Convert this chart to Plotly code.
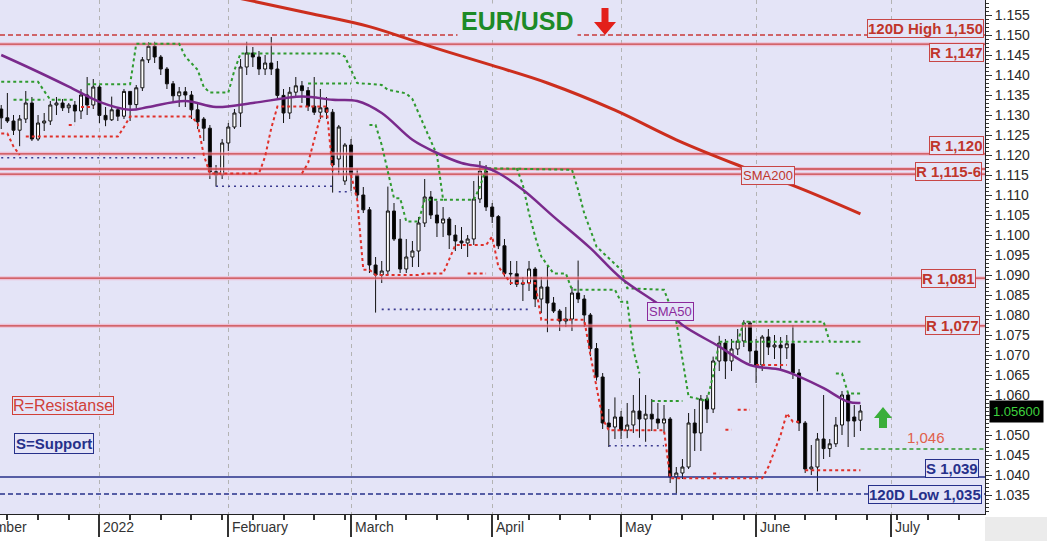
import numpy as np
import pandas as pd
import plotly.graph_objects as go

START = "2021-12-10"
dates = pd.bdate_range(START, "2022-06-24").strftime("%Y-%m-%d").tolist()


def pos(d):
    return None if d is None else int(np.busday_count(START, d))


open_ = [1.1315, 1.1293, 1.1285, 1.1262, 1.1290, 1.1330, 1.1240, 1.1280, 1.1285, 1.1325, 1.1330, 1.1318, 1.1325, 1.1310, 1.1350, 1.1325,
         1.1370, 1.1299, 1.1288, 1.1313, 1.1297, 1.1359, 1.1326, 1.1368, 1.1438, 1.1472, 1.1445, 1.1415, 1.1378, 1.1348, 1.1358, 1.1350, 1.1313, 1.1290, 1.1267, 1.1158, 1.1150,
         1.1230, 1.1270, 1.1305, 1.1420, 1.1455, 1.1445, 1.1415, 1.1430, 1.1415, 1.1349, 1.1305, 1.1357, 1.1373, 1.1361, 1.1322, 1.1307, 1.1318, 1.1307, 1.1190, 1.1135,
         1.1225, 1.1150, 1.1100, 1.1063, 1.0925, 1.0900, 1.0910, 1.1060, 1.0990, 1.0915, 1.0945, 1.0960, 1.1030, 1.1095, 1.1050, 1.1030, 1.1040, 1.1000, 1.0985, 1.0980, 1.0990, 1.1090, 1.1160,
         1.1070, 1.1046, 1.0973, 1.0904, 1.0903, 1.0877, 1.0880, 1.0915, 1.0840, 1.0870, 1.0830, 1.0810, 1.0785, 1.0790, 1.0855, 1.0840, 1.0800, 1.0716, 1.0645, 1.0530, 1.0520,
         1.0545, 1.0512, 1.0525, 1.0560, 1.0540, 1.0552, 1.0540, 1.0530, 1.0540, 1.0395, 1.0405, 1.0420, 1.0530, 1.0505, 1.0590, 1.0565, 1.0685, 1.0730, 1.0685, 1.0715, 1.0735, 1.0780,
         1.0710, 1.0675, 1.0745, 1.0720, 1.0725, 1.0718, 1.0728, 1.0655, 1.0530, 1.0415, 1.0420, 1.0490, 1.0466, 1.0478, 1.0525, 1.0600, 1.0545, 1.0537]
high = [1.1325, 1.1355, 1.1300, 1.1300, 1.1360, 1.1345, 1.1300, 1.1305, 1.1335, 1.1345, 1.1340, 1.1330, 1.1335, 1.1365, 1.1395, 1.1390,
        1.1375, 1.1320, 1.1346, 1.1320, 1.1365, 1.1360, 1.1375, 1.1445, 1.1482, 1.1483, 1.1450, 1.1420, 1.1385, 1.1370, 1.1370, 1.1360, 1.1330, 1.1295, 1.1275, 1.1175, 1.1240,
        1.1280, 1.1315, 1.1440, 1.1483, 1.1470, 1.1460, 1.1450, 1.1495, 1.1435, 1.1365, 1.1370, 1.1395, 1.1385, 1.1370, 1.1395, 1.1365, 1.1345, 1.1315, 1.1275, 1.1230,
        1.1240, 1.1165, 1.1120, 1.1070, 1.0945, 1.0935, 1.1121, 1.1080, 1.1040, 1.0990, 1.0985, 1.1045, 1.1140, 1.1110, 1.1085, 1.1070, 1.1045, 1.1025, 1.1020, 1.1000, 1.1135, 1.1185, 1.1175,
        1.1080, 1.1050, 1.0990, 1.0935, 1.0935, 1.0895, 1.0935, 1.0920, 1.0895, 1.0925, 1.0845, 1.0815, 1.0820, 1.0870, 1.0936, 1.0850, 1.0805, 1.0730, 1.0655, 1.0565, 1.0594,
        1.0560, 1.0580, 1.0600, 1.0642, 1.0600, 1.0590, 1.0580, 1.0575, 1.0545, 1.0420, 1.0440, 1.0555, 1.0565, 1.0600, 1.0600, 1.0696, 1.0748, 1.0740, 1.0740, 1.0765, 1.0787, 1.0785,
        1.0740, 1.0750, 1.0765, 1.0750, 1.0745, 1.0750, 1.0775, 1.0665, 1.0535, 1.0475, 1.0505, 1.0600, 1.0490, 1.0545, 1.0610, 1.0606, 1.0575, 1.0575]
low = [1.1265, 1.1280, 1.1250, 1.1222, 1.1280, 1.1235, 1.1235, 1.1260, 1.1275, 1.1300, 1.1310, 1.1305, 1.1282, 1.1290, 1.1300, 1.1315,
       1.1280, 1.1272, 1.1285, 1.1285, 1.1290, 1.1285, 1.1316, 1.1360, 1.1430, 1.1430, 1.1400, 1.1365, 1.1330, 1.1320, 1.1320, 1.1290, 1.1265, 1.1235, 1.1140, 1.1121, 1.1140,
       1.1210, 1.1265, 1.1270, 1.1400, 1.1420, 1.1400, 1.1400, 1.1400, 1.1340, 1.1280, 1.1290, 1.1345, 1.1330, 1.1310, 1.1300, 1.1290, 1.1290, 1.1106, 1.1150, 1.1125,
       1.1110, 1.1090, 1.1055, 1.0905, 1.0806, 1.0880, 1.0900, 1.0985, 1.0905, 1.0905, 1.0920, 1.0920, 1.1020, 1.1040, 1.0995, 1.0995, 1.0965, 1.0960, 1.0965, 1.0945, 1.0975, 1.1080, 1.1060,
       1.1030, 1.0965, 1.0895, 1.0875, 1.0870, 1.0835, 1.0860, 1.0820, 1.0805, 1.0757, 1.0805, 1.0760, 1.0770, 1.0760, 1.0830, 1.0770, 1.0697, 1.0636, 1.0515, 1.0470, 1.0490,
       1.0490, 1.0492, 1.0505, 1.0493, 1.0483, 1.0510, 1.0515, 1.0505, 1.0380, 1.0354, 1.0390, 1.0415, 1.0460, 1.0460, 1.0530, 1.0555, 1.0660, 1.0640, 1.0660, 1.0700, 1.0720, 1.0680,
       1.0630, 1.0660, 1.0700, 1.0690, 1.0665, 1.0690, 1.0640, 1.0510, 1.0405, 1.0400, 1.0359, 1.0440, 1.0445, 1.0470, 1.0500, 1.0470, 1.0495, 1.0510]
close = [1.1293, 1.1285, 1.1262, 1.1290, 1.1330, 1.1240, 1.1280, 1.1285, 1.1325, 1.1330, 1.1318, 1.1325, 1.1310, 1.1350, 1.1325, 1.1370,
         1.1299, 1.1288, 1.1313, 1.1297, 1.1359, 1.1326, 1.1368, 1.1438, 1.1472, 1.1445, 1.1415, 1.1378, 1.1348, 1.1358, 1.1350, 1.1313, 1.1283, 1.1267, 1.1158, 1.1150, 1.1230,
         1.1270, 1.1305, 1.1420, 1.1455, 1.1445, 1.1415, 1.1430, 1.1415, 1.1349, 1.1305, 1.1357, 1.1373, 1.1361, 1.1322, 1.1307, 1.1318, 1.1307, 1.1175, 1.1270, 1.1225,
         1.1150, 1.1100, 1.1063, 1.0925, 1.0900, 1.0910, 1.1060, 1.0990, 1.0915, 1.0945, 1.0960, 1.1030, 1.1095, 1.1050, 1.1030, 1.1040, 1.1000, 1.0985, 1.0980, 1.0990, 1.1090, 1.1160, 1.1070,
         1.1046, 1.0973, 1.0904, 1.0903, 1.0877, 1.0880, 1.0915, 1.0840, 1.0870, 1.0830, 1.0810, 1.0785, 1.0790, 1.0855, 1.0840, 1.0800, 1.0716, 1.0645, 1.0530, 1.0520, 1.0545,
         1.0512, 1.0525, 1.0560, 1.0540, 1.0552, 1.0540, 1.0530, 1.0540, 1.0395, 1.0405, 1.0420, 1.0530, 1.0505, 1.0590, 1.0565, 1.0685, 1.0730, 1.0685, 1.0715, 1.0735, 1.0780, 1.0710,
         1.0675, 1.0745, 1.0720, 1.0725, 1.0718, 1.0728, 1.0655, 1.0530, 1.0415, 1.0420, 1.0490, 1.0466, 1.0478, 1.0525, 1.0600, 1.0535, 1.0535, 1.0560]

sma50_dates = ["2021-12-10", "2021-12-17", "2021-12-27", "2022-01-03", "2022-01-10", "2022-01-13", "2022-01-21", "2022-01-28",
               "2022-02-07", "2022-02-17", "2022-02-24", "2022-03-02", "2022-03-08", "2022-03-15", "2022-03-21", "2022-03-25",
               "2022-03-31", "2022-04-04", "2022-04-08", "2022-04-15", "2022-04-25", "2022-05-02", "2022-05-11", "2022-05-16",
               "2022-05-24", "2022-05-31", "2022-06-07", "2022-06-10", "2022-06-16", "2022-06-22", "2022-06-24"]
sma50_vals = [1.1450, 1.1415, 1.1371, 1.1333, 1.1313, 1.1320, 1.1335, 1.1320, 1.1330, 1.1346, 1.1338, 1.1335, 1.1305, 1.1238,
              1.1205, 1.1180, 1.1168, 1.1155, 1.1113, 1.1046, 1.0967, 1.0892, 1.0817, 1.0775, 1.0721, 1.0675, 1.0663, 1.0646,
              1.0617, 1.0583, 1.0580]

sma200_dates = ["2021-12-10", "2021-12-24", "2022-01-07", "2022-01-21", "2022-02-04", "2022-02-18", "2022-03-04", "2022-03-18",
                "2022-04-01", "2022-04-14", "2022-04-29", "2022-05-13", "2022-05-27", "2022-06-10", "2022-06-24"]
sma200_vals = [1.1725, 1.1690, 1.1655, 1.1620, 1.1588, 1.1555, 1.1521, 1.1471, 1.1424, 1.1380, 1.1312, 1.1238, 1.1175, 1.1118, 1.1053]

green_dates = ["2021-12-10", "2021-12-20", "2021-12-21", "2021-12-22", "2021-12-28", None,
               "2021-12-14", "2021-12-21", None,
               "2021-12-30", "2022-01-10", "2022-01-11", "2022-01-20", "2022-01-21", "2022-01-25", "2022-01-26", "2022-01-27",
               "2022-02-01", "2022-02-02", "2022-02-03", "2022-02-25", "2022-02-28", "2022-03-02", "2022-03-08", "2022-03-09",
               "2022-03-14", "2022-03-15", "2022-03-21", "2022-03-22", "2022-03-29", "2022-03-30", "2022-03-31", "2022-04-20",
               "2022-04-21", "2022-04-22", "2022-04-25", "2022-04-26", "2022-05-02", "2022-05-03", "2022-05-11", "2022-05-13",
               "2022-05-17", "2022-05-20", "2022-05-23", "2022-05-24", "2022-05-27", "2022-05-30", "2022-06-16", "2022-06-17",
               "2022-06-24", None,
               "2022-02-18", "2022-03-01", None,
               "2022-03-04", "2022-03-07", "2022-03-08", "2022-03-09", "2022-03-10", "2022-03-11", "2022-03-14", "2022-03-16",
               "2022-03-17", "2022-03-22", None,
               "2022-04-07", "2022-04-08", "2022-04-11", "2022-04-12", "2022-04-13", "2022-04-14", "2022-04-15", "2022-04-19",
               "2022-04-20", "2022-04-29", "2022-05-02", "2022-05-03", "2022-05-04", "2022-05-05", None,
               "2022-05-09", "2022-05-16", None,
               "2022-05-27", "2022-06-16", None,
               "2022-06-20", "2022-06-21", "2022-06-22", "2022-06-24"]
green_vals = [1.1383, 1.1383, 1.1360, 1.1338, 1.1338, None,
              1.1338, 1.1338, None,
              1.1377, 1.1377, 1.1478, 1.1478, 1.1446, 1.1413, 1.1370, 1.1356,
              1.1356, 1.1412, 1.1454, 1.1454, 1.1446, 1.1380, 1.1375, 1.1363,
              1.1354, 1.1340, 1.1200, 1.1088, 1.1088, 1.1120, 1.1167, 1.1163,
              1.1113, 1.1054, 1.1013, 1.0971, 1.0913, 1.0867, 1.0863, 1.0783,
              1.0596, 1.0585, 1.0650, 1.0733, 1.0733, 1.0783, 1.0783, 1.0733,
              1.0733, None,
              1.1379, 1.1379, None,
              1.1275, 1.1275, 1.1225, 1.1158, 1.1092, 1.1092, 1.1034, 1.1034,
              1.1088, 1.1088, None,
              1.1167, 1.1125, 1.1054, 1.0996, 1.0946, 1.0925, 1.0904, 1.0904,
              1.0863, 1.0863, 1.0833, 1.0833, 1.0713, 1.0654, None,
              1.0585, 1.0585, None,
              1.0733, 1.0733, None,
              1.0654, 1.0654, 1.0604, 1.0604]

red_dates = ["2021-12-10", "2021-12-13", "2021-12-14", "2021-12-15", None,
             "2021-12-16", "2022-01-06", "2022-01-07", "2022-01-10", "2022-01-24", "2022-01-25", "2022-01-26", "2022-01-27",
             "2022-02-08", "2022-02-09", "2022-02-10", "2022-02-11", "2022-02-23", "2022-02-24", None,
             "2021-12-27", "2021-12-28", None, "2021-12-29", "2021-12-31", None,
             "2022-02-17", "2022-02-18", "2022-02-22", "2022-02-23", None,
             "2022-03-01", "2022-03-02", "2022-03-03", "2022-03-04", "2022-03-07", "2022-03-16", "2022-03-17", "2022-03-22",
             "2022-03-24", "2022-03-31", "2022-04-01", "2022-04-04", "2022-04-06", "2022-04-12", "2022-04-13", "2022-04-22",
             "2022-04-25", "2022-04-26", "2022-04-27", "2022-04-28", "2022-05-11", "2022-05-12", "2022-06-02", "2022-06-03",
             "2022-06-06", "2022-06-07", "2022-06-08", "2022-06-09", "2022-06-10", None,
             "2022-03-28", "2022-03-31", None,
             "2022-05-23", "2022-05-24", None, "2022-05-25", "2022-05-26", None, "2022-05-27", "2022-05-31", None,
             "2022-06-01", "2022-06-08", None,
             "2022-06-13", "2022-06-24"]
red_vals = [1.1254, 1.1254, 1.1221, 1.1200, None,
            1.1246, 1.1246, 1.1270, 1.1296, 1.1296, 1.1279, 1.1200, 1.1154,
            1.1154, 1.1196, 1.1267, 1.1321, 1.1321, 1.1160, None,
            1.1275, 1.1275, None, 1.1320, 1.1320, None,
            1.1154, 1.1180, 1.1296, 1.1296, None,
            1.1150, 1.1088, 1.0913, 1.0913, 1.0900, 1.0900, 1.0904, 1.0904,
            1.0975, 1.0975, 1.0996, 1.0921, 1.0880, 1.0880, 1.0788, 1.0788,
            1.0700, 1.0620, 1.0540, 1.0512, 1.0512, 1.0392, 1.0392, 1.0420,
            1.0460, 1.0500, 1.0554, 1.0533, 1.0533, None,
            1.0904, 1.0904, None,
            1.0404, 1.0404, None, 1.0513, 1.0513, None, 1.0563, 1.0563, None,
            1.0675, 1.0675, None,
            1.0412, 1.0412]

support_hist_dates = ["2021-12-10", "2022-01-25", None, "2022-01-28", "2022-02-24", None, "2022-02-25", "2022-03-01", None,
                      "2022-03-08", "2022-04-11", None, "2022-04-28", "2022-05-11"]
support_hist_vals = [1.1193, 1.1193, None, 1.1122, 1.1122, None, 1.1108, 1.1108, None,
                     1.0814, 1.0814, None, 1.0473, 1.0473]

resistance_levels = [1.1477, 1.1203, 1.1165, 1.1152, 1.0892, 1.0773]
support_levels = [1.0395]
high_120d = 1.1500
low_120d = 1.03525
target_level = 1.0465

month_starts = ["2021-12-01", "2022-01-03", "2022-02-01", "2022-03-01", "2022-04-01", "2022-05-02", "2022-06-01", "2022-07-01"]
month_labels = ["December", "2022", "February", "March", "April", "May", "June", "July"]
mondays = pd.date_range("2021-12-13", "2022-07-18", freq="W-MON").strftime("%Y-%m-%d").tolist()

y_tick_vals = [round(1.035 + 0.005 * k, 3) for k in range(25)]
y_tick_text = ["" if abs(v - 1.055) < 1e-9 else f"{v:.3f}" for v in y_tick_vals]  # 1.055 sits under the price tag

XMIN, XMAX = -0.2, 160.3
YMIN, YMAX = 1.03025, 1.15875
BG = "#e4e4f7"
FONT = "Arial, Liberation Sans, sans-serif"
RED_TXT = "#c0352b"
RED_LINE = "#c84646"
NAVY = "#26308a"

fig = go.Figure()

# horizontal resistance / support levels
for lv in resistance_levels:
    fig.add_trace(go.Scatter(x=[XMIN, XMAX], y=[lv, lv], mode="lines",
                             line=dict(color="rgba(245,160,185,0.55)", width=4), hoverinfo="skip", showlegend=False))
    fig.add_trace(go.Scatter(x=[XMIN, XMAX], y=[lv, lv], mode="lines",
                             line=dict(color=RED_LINE, width=1.3), hoverinfo="skip", showlegend=False))
for lv in support_levels:
    fig.add_trace(go.Scatter(x=[XMIN, XMAX], y=[lv, lv], mode="lines",
                             line=dict(color=NAVY, width=1.5), hoverinfo="skip", showlegend=False))
fig.add_trace(go.Scatter(x=[XMIN, XMAX], y=[high_120d, high_120d], mode="lines",
                         line=dict(color="#c83a3a", width=1.3, dash="5px,3px"), hoverinfo="skip", showlegend=False))
fig.add_trace(go.Scatter(x=[XMIN, XMAX], y=[low_120d, low_120d], mode="lines",
                         line=dict(color=NAVY, width=1.3, dash="5px,3px"), hoverinfo="skip", showlegend=False))
fig.add_trace(go.Scatter(x=[pos(dates[-1]), XMAX], y=[target_level, target_level], mode="lines",
                         line=dict(color="#2f9a2f", width=1.5, dash="4px,3px"), hoverinfo="skip", showlegend=False))

# support history (navy dotted)
fig.add_trace(go.Scatter(x=[pos(d) for d in support_hist_dates], y=support_hist_vals, mode="lines",
                         line=dict(color="#3a3a90", width=1.6, dash="2px,4px"), hoverinfo="skip", showlegend=False))

# candles
fig.add_trace(go.Candlestick(
    x=[pos(d) for d in dates], open=open_, high=high, low=low, close=close,
    increasing=dict(line=dict(color="#111111", width=1), fillcolor="#ffffff"),
    decreasing=dict(line=dict(color="#111111", width=1), fillcolor="#000000"),
    hoverinfo="skip", showlegend=False))

# trailing dotted lines
fig.add_trace(go.Scatter(x=[pos(d) for d in green_dates], y=green_vals, mode="lines",
                         line=dict(color="#2f9a2f", width=2, dash="3px,3px"), hoverinfo="skip", showlegend=False))
fig.add_trace(go.Scatter(x=[pos(d) for d in red_dates], y=red_vals, mode="lines",
                         line=dict(color="#e0302a", width=2, dash="3px,3px"), hoverinfo="skip", showlegend=False))

# moving averages
fig.add_trace(go.Scatter(x=[pos(d) for d in sma200_dates], y=sma200_vals, mode="lines", line_shape="spline",
                         line=dict(color="#cc2e1e", width=3), hoverinfo="skip", showlegend=False))
fig.add_trace(go.Scatter(x=[pos(d) for d in sma50_dates], y=sma50_vals, mode="lines", line_shape="spline",
                         line=dict(color="#7a2a8c", width=2.5), hoverinfo="skip", showlegend=False))

annotations = []


def level_label(text, y, color, border, yanchor, xshift, yshift=0):
    annotations.append(dict(xref="paper", x=1, xanchor="right", xshift=xshift, yref="y", y=y,
                            yanchor=yanchor, yshift=yshift, text=f"<b>{text}</b>", showarrow=False,
                            font=dict(family=FONT, size=15, color=color), bgcolor=BG, bordercolor=border,
                            borderwidth=1, borderpad=0))


level_label("120D High 1,150", high_120d, RED_TXT, RED_LINE, "bottom", -1, -3)
level_label("R 1,147", resistance_levels[0], RED_TXT, RED_LINE, "top", -1, 1)
level_label("R 1,120", resistance_levels[1], RED_TXT, RED_LINE, "bottom", -1, -1)
level_label("R 1,115-6", (resistance_levels[2] + resistance_levels[3]) / 2, RED_TXT, RED_LINE, "middle", -3)
level_label("R 1,081", resistance_levels[4], RED_TXT, RED_LINE, "middle", -9)
level_label("R 1,077", resistance_levels[5], RED_TXT, RED_LINE, "middle", -5)
level_label("S 1,039", support_levels[0], NAVY, NAVY, "bottom", -6, -1)
level_label("120D Low 1,035", low_120d, NAVY, NAVY, "middle", -3)

annotations.append(dict(xref="x", x=pos("2022-06-03"), yref="y", y=1.1150, text="SMA200", showarrow=False,
                        xanchor="center", yanchor="middle",
                        font=dict(family=FONT, size=13, color=RED_TXT), bgcolor=BG, bordercolor=RED_LINE,
                        borderwidth=1, borderpad=1))
annotations.append(dict(xref="x", x=pos("2022-05-12"), yref="y", y=1.0810, text="SMA50", showarrow=False,
                        xanchor="center", yanchor="middle",
                        font=dict(family=FONT, size=13, color="#8b2a9b"), bgcolor=BG, bordercolor="#8b2a9b",
                        borderwidth=1, borderpad=1))

annotations.append(dict(xref="paper", x=12 / 985, xanchor="left", yref="paper", y=1 - 405 / 514, yanchor="middle",
                        text="R=Resistanse", showarrow=False, font=dict(family=FONT, size=16, color="#d04038"),
                        bgcolor=BG, bordercolor="#d04038", borderwidth=1, borderpad=0))
annotations.append(dict(xref="paper", x=14 / 985, xanchor="left", yref="paper", y=1 - 443 / 514, yanchor="middle",
                        text="<b>S=Support</b>", showarrow=False, font=dict(family=FONT, size=15, color=NAVY),
                        bgcolor=BG, bordercolor=NAVY, borderwidth=1, borderpad=1))

annotations.append(dict(xref="paper", x=517 / 985, xanchor="center", yref="paper", y=1 - 21 / 514, yanchor="middle",
                        text="<b>EUR/USD</b>", showarrow=False, font=dict(family=FONT, size=25, color="#1d8a27"),
                        bgcolor=BG, borderpad=3))

annotations.append(dict(xref="paper", x=926 / 985, xanchor="center", yref="y", y=target_level, yanchor="bottom",
                        yshift=1, text="1,046", showarrow=False, font=dict(family=FONT, size=15, color="#e0604a")))

annotations.append(dict(xref="paper", x=1, xanchor="left", xshift=4, yref="y", y=close[-1], yanchor="middle",
                        text=f"{close[-1]:.5f}", showarrow=False, font=dict(family=FONT, size=13, color="#3fd23f"),
                        bgcolor="#000000", borderpad=3))

XSPAN = XMAX - XMIN
for d, lab in zip(month_starts, month_labels):
    annotations.append(dict(xref="paper", x=(pos(d) - XMIN) / XSPAN, xanchor="left", xshift=2,
                            yref="paper", y=-13 / 514, yanchor="middle", text=lab, showarrow=False,
                            font=dict(family=FONT, size=14, color="#333333")))

shapes = [
    dict(type="path", xref="paper", yref="paper", xsizemode="pixel", ysizemode="pixel",
         xanchor=605 / 985, yanchor=1 - 35 / 514,
         path="M 0 0 L -11 13 L -3.5 13 L -3.5 27 L 3.5 27 L 3.5 13 L 11 13 Z",
         fillcolor="#e3201b", line=dict(width=0)),
    dict(type="path", xref="paper", yref="paper", xsizemode="pixel", ysizemode="pixel",
         xanchor=883 / 985, yanchor=1 - 407 / 514,
         path="M 0 0 L -9 -11 L -4 -11 L -4 -21 L 4 -21 L 4 -11 L 9 -11 Z",
         fillcolor="#3aae3a", line=dict(width=0)),
    dict(type="rect", xref="paper", yref="paper", x0=1, x1=1 + 62 / 985, y0=-27 / 514, y1=-3 / 514,
         fillcolor="#ebebeb", line=dict(width=0), layer="below"),
]

fig.update_layout(
    width=1047, height=541,
    margin=dict(l=0, r=62, t=0, b=27),
    paper_bgcolor="#ffffff", plot_bgcolor=BG,
    showlegend=False,
    annotations=annotations, shapes=shapes,
    xaxis=dict(range=[XMIN, XMAX], rangeslider=dict(visible=False), showline=True, linecolor="#222222",
               tickmode="array", tickvals=[pos(d) for d in month_starts[1:]], showticklabels=False,
               ticks="outside", ticklen=22, tickcolor="#333333", tickwidth=1.5,
               showgrid=True, gridcolor="#b3b3b3", griddash="4px,4px", gridwidth=1, zeroline=False,
               minor=dict(tickmode="array", tickvals=[pos(d) for d in mondays], ticks="outside", ticklen=5,
                          tickcolor="#333333", showgrid=False)),
    yaxis=dict(range=[YMIN, YMAX], side="right", showline=True, linecolor="#222222", showgrid=False,
               zeroline=False, tickmode="array", tickvals=y_tick_vals, ticktext=y_tick_text,
               ticks="outside", ticklen=6, tickcolor="#333333",
               tickfont=dict(family=FONT, size=14, color="#2a2a2a"),
               minor=dict(dtick=0.001, ticks="outside", ticklen=3, tickcolor="#333333", showgrid=False)),
)

fig.write_html("out.html", config={"displayModeBar": False},
               post_script="document.body.style.margin='0px';")
